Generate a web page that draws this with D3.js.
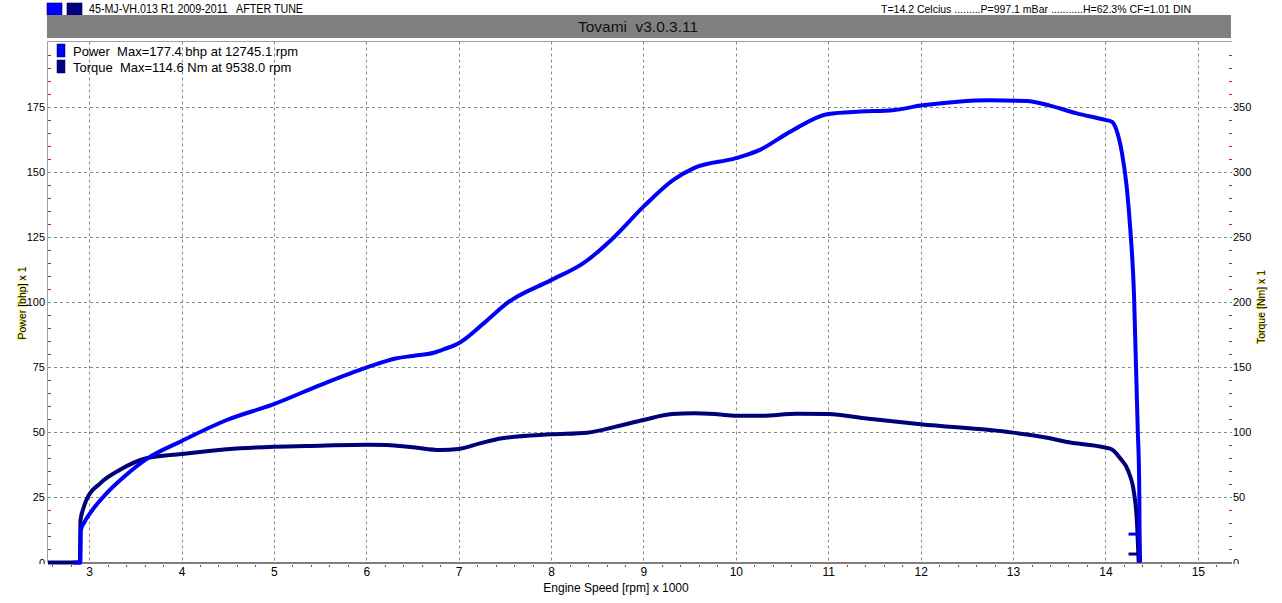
<!DOCTYPE html>
<html>
<head>
<meta charset="utf-8">
<script src="https://cdn.jsdelivr.net/npm/d3@7"></script>
<style>
  html, body { margin: 0; padding: 0; background: #ffffff; }
  svg { display: block; }
  text { font-family: "Liberation Sans", Arial, sans-serif; white-space: pre; }
</style>
</head>
<body>
<svg id="chart" width="1282" height="603"></svg>
<script>
// ---------------- data ----------------
const headerLeft = "45-MJ-VH.013 R1 2009-2011   AFTER TUNE";
const headerRight = "T=14.2 Celcius .........P=997.1 mBar ...........H=62.3% CF=1.01 DIN";
const titleText = "Tovami  v3.0.3.11";
const legendLabels = ["Power  Max=177.4 bhp at 12745.1 rpm", "Torque  Max=114.6 Nm at 9538.0 rpm"];
const xTicks = [3, 4, 5, 6, 7, 8, 9, 10, 11, 12, 13, 14, 15];
const yTicksLeft = [0, 25, 50, 75, 100, 125, 150, 175];
const yTicksRight = [0, 50, 100, 150, 200, 250, 300, 350];
const xLabel = "Engine Speed [rpm] x 1000";
const yLabelLeft = "Power [bhp] x 1";
const yLabelRight = "Torque [Nm] x 1";

// engine speed (x1000 rpm) and power (bhp)
const powerRpm = [2.83, 2.905, 2.91, 2.95, 3.01, 3.19, 3.40, 3.62, 4.0, 4.49, 5.0, 5.5, 6.0, 6.33, 6.5, 6.73, 6.85, 7.0, 7.27, 7.52, 8.0, 8.35, 8.67, 9.0, 9.32, 9.54, 10.0, 10.26, 10.59, 11.0, 11.35, 11.7, 12.0, 12.4, 12.75, 13.15, 13.4, 13.69, 14.0, 14.07, 14.12, 14.18, 14.23, 14.27, 14.31, 14.33, 14.35, 14.365, 14.37, 14.375];
const powerBhp = [0, 0, 12.5, 15.5, 18.9, 26.6, 33.6, 39.7, 46.6, 54.7, 60.8, 68.1, 74.8, 78.4, 79.3, 80.5, 82.0, 84.2, 91.8, 99.5, 108.4, 114.9, 124.5, 136.6, 146.8, 151.3, 155.2, 158.4, 165.4, 172.2, 173.1, 173.6, 175.4, 176.9, 177.4, 177.2, 175.4, 172.4, 169.9, 169.2, 166.0, 157.0, 144.3, 127.6, 102.0, 76.5, 50.9, 31.7, 11.0, 0];

// engine speed (x1000 rpm) and torque (Nm)
const torqueRpm = [2.555, 2.9, 2.907, 2.94, 2.97, 3.12, 3.33, 3.62, 4.0, 4.49, 5.0, 5.5, 6.0, 6.22, 6.51, 6.80, 7.0, 7.23, 7.47, 8.0, 8.39, 8.73, 9.0, 9.31, 9.55, 9.8, 10.0, 10.28, 10.66, 11.0, 11.39, 12.0, 13.0, 13.4, 13.57, 14.0, 14.07, 14.16, 14.25, 14.31, 14.34, 14.36];
const torqueNm = [0, 0, 32.6, 42.0, 48.0, 60.8, 71.0, 80.0, 83.3, 86.9, 88.9, 89.7, 90.4, 90.2, 88.4, 86.4, 87.2, 91.5, 95.4, 98.4, 99.7, 104.8, 109.4, 114.0, 114.6, 113.8, 112.7, 112.7, 114.2, 114.0, 110.7, 106.1, 99.7, 95.4, 92.7, 88.2, 86.8, 80.0, 69.7, 53.1, 32.6, 0];

// short end-of-run marks
const tailRpm = [14.25, 14.36];
const tailPower = [10.9, 10.9];
const tailTorque = [6.5, 6.5];

// ---------------- layout ----------------
const powerColor = "#0000f4";
const torqueColor = "#000078";
const plot = { left: 48, right: 1232, top: 41.5, bottom: 562.5 };

const svg = d3.select("#chart");
const x = d3.scaleLinear().domain([2.555, 15.37]).range([plot.left, plot.right]);
const yL = d3.scaleLinear().domain([0, 200]).range([plot.bottom, plot.top]);
const yR = d3.scaleLinear().domain([0, 400]).range([plot.bottom, plot.top]);

// header
svg.append("rect").attr("x", 47).attr("y", 3).attr("width", 15).attr("height", 12).attr("fill", "#0000ff").attr("stroke", "#000060").attr("stroke-width", 0.6);
svg.append("rect").attr("x", 67).attr("y", 3).attr("width", 15).attr("height", 12).attr("fill", "#000080").attr("stroke", "#000040").attr("stroke-width", 0.6);
svg.append("text").attr("x", 89).attr("y", 13).attr("font-size", 12).attr("fill", "#000")
  .attr("textLength", 214).attr("lengthAdjust", "spacingAndGlyphs").text(headerLeft);
svg.append("text").attr("x", 881).attr("y", 12.5).attr("font-size", 11).attr("fill", "#000")
  .attr("textLength", 310).attr("lengthAdjust", "spacingAndGlyphs").text(headerRight);

svg.append("rect").attr("x", 47).attr("y", 15).attr("width", 1184).attr("height", 23).attr("fill", "#808080");
svg.append("text").attr("x", 638).attr("y", 32).attr("text-anchor", "middle").attr("font-size", 15).attr("fill", "#111")
  .attr("textLength", 120).attr("lengthAdjust", "spacingAndGlyphs").text(titleText);

// plot border (top, left)
svg.append("line").attr("x1", 47.5).attr("x2", plot.right).attr("y1", 41.5).attr("y2", 41.5).attr("stroke", "#a0a0a0").attr("stroke-width", 1);
svg.append("line").attr("x1", 47.5).attr("x2", 47.5).attr("y1", 41.5).attr("y2", plot.bottom).attr("stroke", "#a0a0a0").attr("stroke-width", 1);

// grid
const grid = svg.append("g").attr("stroke", "#8a8a8a").attr("stroke-width", 1).attr("stroke-dasharray", "3,3");
xTicks.forEach(t => {
  const px = Math.round(x(t)) + 0.5;
  grid.append("line").attr("x1", px).attr("x2", px).attr("y1", plot.top).attr("y2", plot.bottom);
});
yTicksLeft.filter(t => t > 0).forEach(t => {
  const py = Math.round(yL(t)) + 0.5;
  grid.append("line").attr("x1", plot.left).attr("x2", plot.right).attr("y1", py).attr("y2", py);
});

// minor ticks (red)
const minor = svg.append("g").attr("stroke", "#d02020").attr("stroke-width", 1);
d3.range(5, 200, 5).filter(v => v % 25 !== 0).forEach(v => {
  const py = Math.round(yL(v)) + 0.5;
  minor.append("line").attr("x1", 48).attr("x2", 51).attr("y1", py).attr("y2", py);
});
d3.range(10, 400, 10).filter(v => v % 50 !== 0).forEach(v => {
  const py = Math.round(yR(v)) + 0.5;
  minor.append("line").attr("x1", 1229).attr("x2", 1232).attr("y1", py).attr("y2", py);
});
d3.range(2.6, 15.37, 0.2).forEach(v => {
  if (Math.abs(v - Math.round(v)) < 0.05) return;
  const px = Math.round(x(v)) + 0.5;
  minor.append("line").attr("x1", px).attr("x2", px).attr("y1", 565).attr("y2", 567);
});

// x axis
svg.append("line").attr("x1", plot.left).attr("x2", plot.right).attr("y1", 563).attr("y2", 563).attr("stroke", "#000").attr("stroke-width", 1.2);
const xAxis = d3.axisBottom(x).tickValues(xTicks).tickSize(0).tickPadding(0).tickFormat(d3.format("d"));
const gx = svg.append("g").attr("transform", "translate(0,567)").call(xAxis);
gx.select(".domain").remove();
gx.selectAll("text").attr("font-size", 12).attr("fill", "#000").attr("dy", "0.71em").attr("font-family", "Liberation Sans, Arial, sans-serif");

// y axes (labels clipped at the x axis)
svg.append("clipPath").attr("id", "labclip").append("rect").attr("x", 0).attr("y", 0).attr("width", 1282).attr("height", 564);
const clipG = svg.append("g").attr("clip-path", "url(#labclip)");
const yAxisL = d3.axisLeft(yL).tickValues(yTicksLeft).tickSize(0).tickPadding(0);
const gyl = clipG.append("g").attr("transform", "translate(45,0)").call(yAxisL);
gyl.select(".domain").remove();
gyl.selectAll("text").attr("font-size", 11).attr("fill", "#000").attr("font-family", "Liberation Sans, Arial, sans-serif");
const yAxisR = d3.axisRight(yR).tickValues(yTicksRight).tickSize(0).tickPadding(0);
const gyr = clipG.append("g").attr("transform", "translate(1233,0)").call(yAxisR);
gyr.select(".domain").remove();
gyr.selectAll("text").attr("font-size", 11).attr("fill", "#000").attr("font-family", "Liberation Sans, Arial, sans-serif");

// axis titles
svg.append("text").attr("x", 616).attr("y", 592).attr("text-anchor", "middle").attr("font-size", 12).attr("fill", "#000").text(xLabel);
function glowLabel(cx, cy, txt) {
  const g = svg.append("g").attr("transform", `translate(${cx},${cy}) rotate(-90)`);
  g.append("text").attr("x", -0.8).attr("y", -0.8).attr("text-anchor", "middle").attr("font-size", 10.5).attr("fill", "#f0f000").text(txt);
  g.append("text").attr("x", 0).attr("y", 0).attr("text-anchor", "middle").attr("font-size", 10.5).attr("fill", "#000").text(txt);
}
glowLabel(26, 303, yLabelLeft);
glowLabel(1265, 307, yLabelRight);

// curves
const power = powerRpm.map((r, i) => [r, powerBhp[i]]);
const torque = torqueRpm.map((r, i) => [r, torqueNm[i]]);
const linePow = d3.line().x(d => x(d[0])).y(d => yL(d[1])).curve(d3.curveMonotoneX);
const lineTq = d3.line().x(d => x(d[0])).y(d => yR(d[1])).curve(d3.curveMonotoneX);

svg.append("path").datum(torque).attr("d", lineTq).attr("fill", "none").attr("stroke", torqueColor).attr("stroke-width", 4).attr("stroke-linejoin", "round");
svg.append("path").datum(power).attr("d", linePow).attr("fill", "none").attr("stroke", powerColor).attr("stroke-width", 4).attr("stroke-linejoin", "round");
svg.append("path").datum(tailRpm.map((r, i) => [r, tailTorque[i]])).attr("d", d3.line().x(d => x(d[0])).y(d => yR(d[1]))).attr("fill", "none").attr("stroke", torqueColor).attr("stroke-width", 3);
svg.append("path").datum(tailRpm.map((r, i) => [r, tailPower[i]])).attr("d", d3.line().x(d => x(d[0])).y(d => yL(d[1]))).attr("fill", "none").attr("stroke", powerColor).attr("stroke-width", 3);

// legend
legendLabels.forEach((lab, i) => {
  const y0 = 44 + i * 16;
  svg.append("rect").attr("x", 57).attr("y", y0).attr("width", 8).attr("height", 13).attr("fill", i === 0 ? "#0000ff" : "#000080").attr("stroke", "#000050").attr("stroke-width", 0.5);
  svg.append("text").attr("x", 73).attr("y", y0 + 12).attr("font-size", 13).attr("fill", "#000").text(lab);
});
</script>
</body>
</html>
